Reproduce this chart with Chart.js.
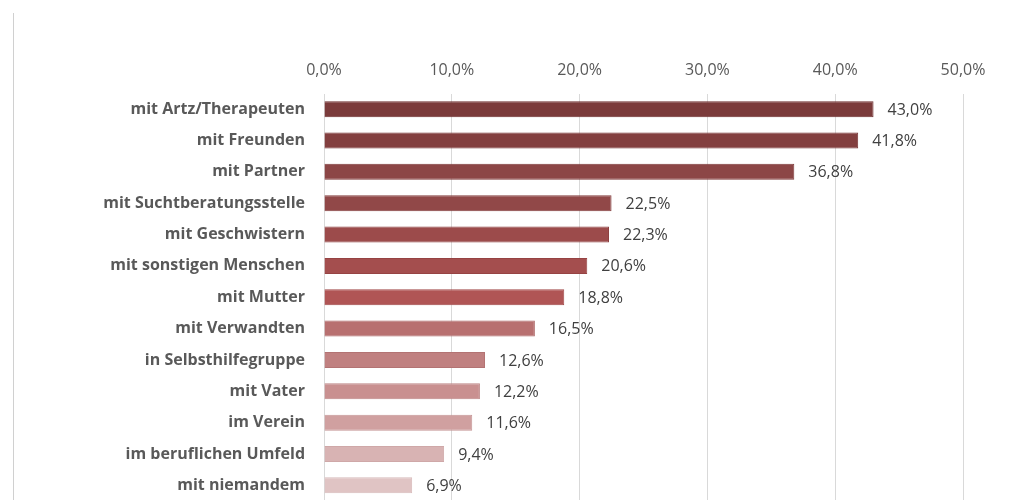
<!DOCTYPE html>
<html>
<head>
<meta charset="utf-8">
<script src="https://cdn.jsdelivr.net/npm/chart.js@4.4.1/dist/chart.umd.min.js"></script>
<style>
  html, body { margin: 0; padding: 0; background: #fff; overflow: hidden; }
  #wrap { position: relative; width: 1016px; height: 500px; overflow: hidden; }
  #frame { position: absolute; left: 13px; top: 13px; bottom: -10px; border-left: 1px solid #d0d0d0; }
  canvas { position: absolute; left: 0; top: 0; }
</style>
</head>
<body>
<div id="wrap">
  <div id="frame"></div>
  <canvas id="grafico" width="1016" height="501"></canvas>
</div>
<script>
var labels = ['mit Artz/Therapeuten', 'mit Freunden', 'mit Partner', 'mit Suchtberatungsstelle',
    'mit Geschwistern', 'mit sonstigen Menschen', 'mit Mutter', 'mit Verwandten',
    'in Selbsthilfegruppe', 'mit Vater', 'im Verein', 'im beruflichen Umfeld', 'mit niemandem'];
var values = [43.0, 41.8, 36.8, 22.5, 22.3, 20.6, 18.8, 16.5, 12.6, 12.2, 11.6, 9.4, 6.9];
var barColors = ['#7b3b3b', '#833f3f', '#8c4646', '#914848', '#9c4b4b', '#a44e4e', '#b05555',
    '#b87070', '#c08080', '#c99090', '#d0a0a0', '#d8b3b3', '#e0c4c4'];
var borderColors = ['#6e2f2f', '#763333', '#7e3a3a', '#843d3d', '#8e4040', '#964343', '#a04848',
    '#aa6363', '#b37373', '#bd8585', '#c59595', '#cfa8a8', '#d7baba'];
var xTicks = [0, 10, 20, 30, 40, 50];

function pct(v) {
    return v.toFixed(1).replace('.', ',') + '%';
}

// value text at the end of every bar
var valueLabels = {
    id: 'valueLabels',
    afterDatasetsDraw: function(chart) {
        var ctx = chart.ctx;
        var meta = chart.getDatasetMeta(0);
        ctx.save();
        ctx.font = '16px "Open Sans"';
        ctx.fillStyle = '#404040';
        ctx.textAlign = 'left';
        ctx.textBaseline = 'middle';
        meta.data.forEach(function(bar, i) {
            ctx.fillText(pct(values[i]), bar.x + 14, bar.y + 1);
        });
        ctx.restore();
    }
};

var canvas = document.getElementById('grafico');
var chart = new Chart(canvas, {
    type: 'bar',
    data: {
        labels: labels,
        datasets: [{
            data: values,
            backgroundColor: barColors,
            borderColor: borderColors,
            borderWidth: 1,
            categoryPercentage: 0.51,
            barPercentage: 1.0
        }]
    },
    options: {
        indexAxis: 'y',
        responsive: false,
        animation: false,
        layout: { padding: { left: 0, top: 0, bottom: 0, right: 53 } },
        plugins: {
            legend: { display: false },
            tooltip: { enabled: false }
        },
        scales: {
            x: {
                position: 'top',
                min: 0,
                max: 50,
                afterBuildTicks: function(scale) {
                    scale.ticks = xTicks.map(function(v) { return { value: v }; });
                },
                afterFit: function(scale) { scale.height = 93.5; },
                grid: { color: '#d9d9d9', lineWidth: 1, drawTicks: false },
                border: { display: false },
                ticks: {
                    padding: 13,
                    color: '#595959',
                    font: { family: 'Open Sans', size: 16 },
                    callback: function(v) { return pct(v); }
                }
            },
            y: {
                afterFit: function(scale) {
                    scale.width = 324;
                    scale.paddingTop = 0;
                    scale.paddingBottom = 0;
                },
                grid: { display: false, drawTicks: false },
                border: { display: false },
                ticks: {
                    padding: 19,
                    color: '#595959',
                    font: { family: 'Open Sans', size: 16, weight: 'bold' }
                }
            }
        }
    },
    plugins: [valueLabels]
});
</script>
</body>
</html>
